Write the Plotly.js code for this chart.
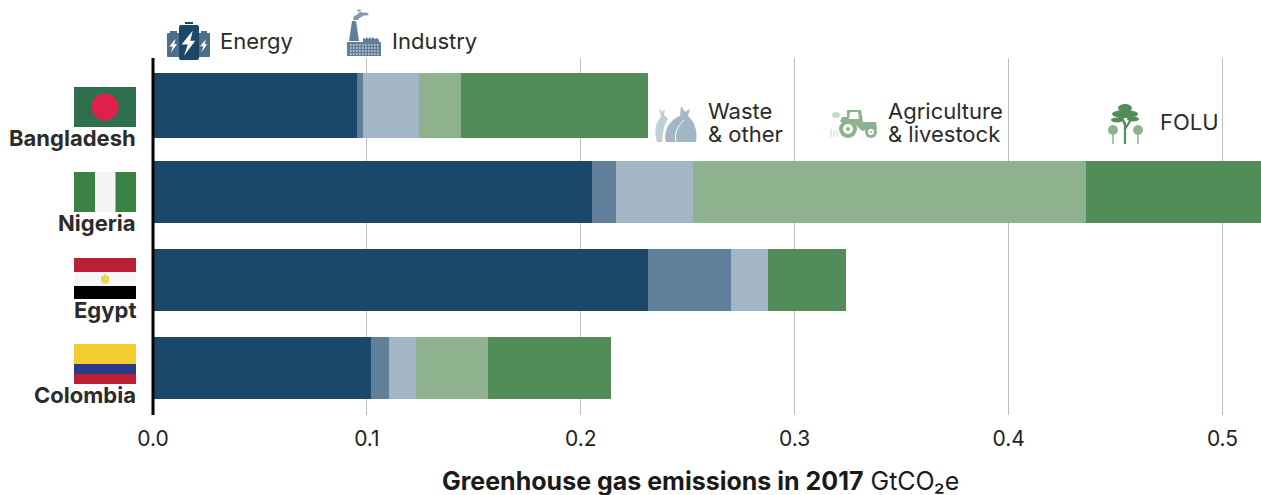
<!DOCTYPE html>
<html><head><meta charset="utf-8">
<script src="https://cdn.plot.ly/plotly-3.0.1.min.js"></script>
<style>html,body{margin:0;padding:0;background:#fff;overflow:hidden}#c{width:1261px;height:495px}</style>
</head><body><div id="c"></div>
<script>
const countries = ['Bangladesh','Nigeria','Egypt','Colombia'];
const energy = [0.0952,0.2052,0.2313,0.1018];
const industry = [0.0028,0.0112,0.0388,0.0084];
const waste = [0.0262,0.0360,0.0173,0.0126];
const agriculture = [0.0197,0.1838,0,0.0337];
const folu = [0.0875,0.0850,0.0365,0.0575];
const seriesNames = ['Energy','Industry','Waste & other','Agriculture & livestock','FOLU'];
const seriesColors = ['#1b4869','#5f7f9a','#a3b6c5','#8eb28d','#528c58'];
const xTicks = [0,0.1,0.2,0.3,0.4,0.5];
const xTickText = ['0.0','0.1','0.2','0.3','0.4','0.5'];

const W=1261,H=495,L=153,R=0,T=58,B=80;
const barW=[0.74,0.705,0.705,0.705];
const barOff=[-0.355,-0.3525,-0.3525,-0.3525];
const FONT='Inter, "Open Sans", sans-serif';
const svg=s=>'data:image/svg+xml;base64,'+btoa(s);
const wrap=(w,h,b)=>`<svg xmlns="http://www.w3.org/2000/svg" width="${w}" height="${h}" viewBox="0 0 ${w} ${h}">${b}</svg>`;
const flags={
 Bangladesh:wrap(62,40,'<rect width="62" height="40" fill="#2e6f4e"/><circle cx="31" cy="20" r="13.5" fill="#e0204c"/>'),
 Nigeria:wrap(62,40,'<rect width="62" height="40" fill="#3a8244"/><rect x="21" width="20.5" height="40" fill="#f5f5f5"/>'),
 Egypt:wrap(62,41,'<rect width="62" height="14" fill="#bc2035"/><rect y="14" width="62" height="14" fill="#f5f6f5"/><rect y="28" width="62" height="13" fill="#000"/><path d="M31 15.5l1.5 2 2.5 .5v5l-1 2.500h-6l-1-2.500v-5l2.500-.5z" fill="#f3d15d"/>'),
 Colombia:wrap(62,40,'<rect width="62" height="20" fill="#f3cd2e"/><rect y="20" width="62" height="10" fill="#2a3b8c"/><rect y="30" width="62" height="10" fill="#bc2035"/>')
};
const flagY=[87,172,258,344];
const flagH=[40,40,41,40];
const bolt=(x,y,s,c)=>`<path transform="translate(${x} ${y}) scale(${s})" d="M3-9L-6 2h5l-3 9 9-12H1z" fill="${c}"/>`;
const icons={
 energy:[167,22,44,38,wrap(44,38,'<rect x="0" y="11" width="13" height="24" rx="1" fill="#4d6f8c"/><rect x="3" y="9" width="7" height="2" fill="#4d6f8c"/><rect x="31" y="11" width="12" height="24" rx="1" fill="#4d6f8c"/><rect x="34" y="9" width="6" height="2" fill="#4d6f8c"/><rect x="12" y="3" width="20" height="35" rx="2" fill="#1b4869"/><rect x="18" y="0" width="8" height="2" fill="#1b4869"/>'+bolt(22,20,1.25,'#fff')+bolt(6.500,23,.7,'#fff')+bolt(37,23,.65,'#fff'))],
 industry:[347,9,36,47,wrap(36,47,'<path d="M2 32l3-20h4l3 20z" fill="#5f7f9a"/><path d="M6 11q0-5 4-5 1-3 5-3 3 2 0 5-3 0-4 3z" fill="#7f99ae"/><ellipse cx="18" cy="5" rx="3.500" ry="1.500" fill="#7f99ae"/><ellipse cx="12" cy="1.500" rx="2" ry="1" fill="#7f99ae"/><path d="M0 33h34v14H0zM16 33v-4l3 1v-2l3 2v-2l3 2v-2l3 2 2-1 2 2v2z" fill="#5f7f9a"/><path d="M3 36h29M3 39h29M3 42h29M3 45h29" stroke="#fff" stroke-width="1" stroke-dasharray="1.600 1.400"/>')],
 waste:[655,105,44,38,wrap(44,38,'<path d="M4 3l3 4 3-3-1 6q3 2 4 4-5 6-6 23H2C-1 28 0 18 6 12z" fill="#c0ced8"/><path d="M26 1l4 6 5-3-2 7c6 5 10 14 8 26H11c-3-12 4-22 14-26z" fill="#a3b6c5"/><path d="M21 37q-3-12 8-22" stroke="#fff" stroke-width="1" fill="none"/>')],
 agriculture:[830,107,50,33,wrap(50,33,'<path d="M17 3h14l2 12h13l1 7h-7l-8 2-9-9H10l2-5h5zM20 5l-1 7h10l-1-7z" fill="#8eb28d"/><circle cx="18" cy="22" r="9" fill="#8eb28d"/><circle cx="18" cy="22" r="5" fill="#fff"/><circle cx="18" cy="22" r="2" fill="#8eb28d"/><circle cx="41" cy="25" r="6" fill="#8eb28d"/><circle cx="41" cy="25" r="3" fill="#fff"/><circle cx="41" cy="25" r="1" fill="#8eb28d"/><ellipse cx="6" cy="8" rx="4" ry="3" fill="#c9d9c9"/><path d="M1 30v-8M4 30v-6M7 30v-7" stroke="#c9d9c9"/>')],
 folu:[1107,103,37,42,wrap(37,42,'<path d="M18 41V20l-6-6M18 26l7-11M18 22l-3-8" stroke="#528c58" stroke-width="2.200" fill="none"/><ellipse cx="18" cy="5" rx="7" ry="4" fill="#528c58"/><ellipse cx="18" cy="11" rx="13" ry="4" fill="#528c58"/><ellipse cx="10" cy="17" rx="6" ry="2.500" fill="#528c58"/><ellipse cx="26" cy="16" rx="6" ry="2.500" fill="#528c58"/><path d="M6 41V28M31 41V28" stroke="#8eb28d" stroke-width="1.500"/><circle cx="6" cy="27" r="5" fill="#8eb28d"/><circle cx="31" cy="27" r="5" fill="#8eb28d"/>')]
};
const series=[energy,industry,waste,agriculture,folu];
const traces=series.map((v,i)=>({type:'bar',orientation:'h',name:seriesNames[i],y:countries,x:v,
  width:barW,offset:barOff,marker:{color:seriesColors[i],line:{width:0}},hoverinfo:'x+y'}));

const images=countries.map((c,i)=>({source:svg(flags[c]),xref:'paper',yref:'paper',sizing:'stretch',layer:'above',
  x:(74-L)/(W-L-R),y:1-(flagY[i]-T)/(H-T-B),sizex:62/(W-L-R),sizey:flagH[i]/(H-T-B),xanchor:'left',yanchor:'top'}));
Object.values(icons).forEach(a=>images.push({source:svg(a[4]),xref:'paper',yref:'paper',sizing:'stretch',layer:'above',
  x:(a[0]-L)/(W-L-R),y:1-(a[1]-T)/(H-T-B),sizex:a[2]/(W-L-R),sizey:a[3]/(H-T-B),xanchor:'left',yanchor:'top'}));

const px=x=>(x-L)/(W-L-R), py=y=>1-(y-T)/(H-T-B);
const note=(t,x,y,o)=>Object.assign({text:t,xref:'paper',yref:'paper',x:px(x),y:py(y),xanchor:'left',yanchor:'middle',showarrow:false,align:'left',
  font:{family:FONT,size:22,color:'#2b2b2b'}},o||{});
const labelY=[138,223,310,395];
const annotations=countries.map((c,i)=>note('<b>'+c+'</b>',137.5,labelY[i],{xanchor:'right',align:'right'}));
annotations.push(note('Energy',218,41.5),note('Industry',390,41.5),note('Waste',706,111),note('&amp; other',706,134),
  note('Agriculture',885.5,111),note('&amp; livestock',885.5,134),note('FOLU',1158,122));
annotations.push(note('<b>Greenhouse gas emissions in 2017</b> GtCO₂e',700.5,481,{xanchor:'center',align:'center',font:{family:FONT,size:25,color:'#1a1a1a'}}));

Plotly.newPlot('c',traces,{
 width:W,height:H,margin:{l:L,r:R,t:T,b:B,pad:0},paper_bgcolor:'#fff',plot_bgcolor:'#fff',
 barmode:'stack',showlegend:false,font:{family:FONT,color:'#222'},
 xaxis:{range:[0,0.518],tickvals:xTicks,ticktext:xTickText,showgrid:true,gridcolor:'#bdbdbd',gridwidth:1,zeroline:false,
   showline:false,ticks:'outside',ticklen:5,tickcolor:'rgba(0,0,0,0)',tickfont:{family:FONT,size:21,color:'#222'}},
 yaxis:{type:'category',categoryorder:'array',categoryarray:countries,range:[3.534,-0.5227],showticklabels:false,ticks:'',
   showgrid:false,zeroline:false,showline:false},
 shapes:[{type:'line',xref:'paper',yref:'paper',x0:0,x1:0,y0:0,y1:1,layer:'above',line:{color:'#000',width:3}}],
 images,annotations
},{displayModeBar:false,staticPlot:true});
</script></body></html>
